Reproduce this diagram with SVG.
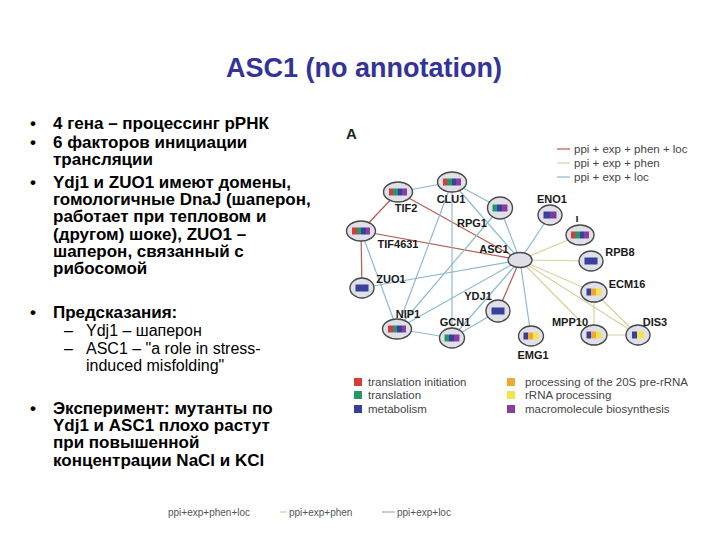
<svg xmlns="http://www.w3.org/2000/svg" width="720" height="540" viewBox="0 0 720 540">
<defs>
<style>
.title{font-family:"Liberation Sans",Arial,sans-serif;font-weight:bold;font-size:27px;fill:#333399}
.bt{font-family:"Liberation Sans",Arial,sans-serif;font-weight:bold;font-size:17px;fill:#000}
.st{font-family:"Liberation Sans",Arial,sans-serif;font-size:16px;fill:#000}
.nl{font-family:"Liberation Sans",Arial,sans-serif;font-weight:bold;font-size:11px;fill:#1a1a1a;text-anchor:middle}
.lg{font-family:"Liberation Sans",Arial,sans-serif;font-size:11.5px;fill:#444}
.ft{font-family:"Liberation Sans",Arial,sans-serif;font-size:10px;fill:#555}
.node ellipse{fill:#dfe0e8;stroke:#4a4a4a;stroke-width:1.4}
.er{stroke:#b9584f;stroke-width:1.2;fill:none}
.eb{stroke:#8dbad3;stroke-width:1.2;fill:none}
.et{stroke:#d9d29e;stroke-width:1.2;fill:none}
</style>
<linearGradient id="g4" x1="0" y1="0" x2="1" y2="0">
<stop offset="0" stop-color="#d63d3a"/><stop offset="0.25" stop-color="#d63d3a"/>
<stop offset="0.25" stop-color="#24976a"/><stop offset="0.5" stop-color="#24976a"/>
<stop offset="0.5" stop-color="#3a3f9c"/><stop offset="0.75" stop-color="#3a3f9c"/>
<stop offset="0.75" stop-color="#8c3c9c"/><stop offset="1" stop-color="#8c3c9c"/>
</linearGradient>
<linearGradient id="g3" x1="0" y1="0" x2="1" y2="0">
<stop offset="0" stop-color="#24976a"/><stop offset="0.33" stop-color="#24976a"/>
<stop offset="0.33" stop-color="#3a3f9c"/><stop offset="0.66" stop-color="#3a3f9c"/>
<stop offset="0.66" stop-color="#8c3c9c"/><stop offset="1" stop-color="#8c3c9c"/>
</linearGradient>
<linearGradient id="gbp" x1="0" y1="0" x2="1" y2="0">
<stop offset="0" stop-color="#3a3f9c"/><stop offset="0.5" stop-color="#3a3f9c"/>
<stop offset="0.5" stop-color="#7a3c9c"/><stop offset="1" stop-color="#7a3c9c"/>
</linearGradient>
<linearGradient id="gboy" x1="0" y1="0" x2="1" y2="0">
<stop offset="0" stop-color="#3a3f9c"/><stop offset="0.3" stop-color="#3a3f9c"/>
<stop offset="0.3" stop-color="#eea833"/><stop offset="0.62" stop-color="#eea833"/>
<stop offset="0.62" stop-color="#f3e34c"/><stop offset="1" stop-color="#f3e34c"/>
</linearGradient>
<linearGradient id="gby" x1="0" y1="0" x2="1" y2="0">
<stop offset="0" stop-color="#3a3f9c"/><stop offset="0.4" stop-color="#3a3f9c"/>
<stop offset="0.4" stop-color="#f3e34c"/><stop offset="1" stop-color="#f3e34c"/>
</linearGradient>
</defs>
<rect width="720" height="540" fill="#fff"/>
<text class="title" x="364" y="77" text-anchor="middle">ASC1 (no annotation)</text>

<g id="bullets">
<text class="bt" x="30" y="129">•</text>
<text class="bt" x="53" y="129">4 гена – процессинг рРНК</text>
<text class="bt" x="30" y="148">•</text>
<text class="bt" x="53" y="148">6 факторов инициации</text>
<text class="bt" x="53" y="165">трансляции</text>
<text class="bt" x="30" y="188">•</text>
<text class="bt" x="53" y="188">Ydj1 и ZUO1 имеют домены,</text>
<text class="bt" x="53" y="205">гомологичные DnaJ (шаперон,</text>
<text class="bt" x="53" y="222">работает при тепловом и</text>
<text class="bt" x="53" y="240">(другом) шоке), ZUO1 –</text>
<text class="bt" x="53" y="257">шаперон, связанный с</text>
<text class="bt" x="53" y="274">рибосомой</text>
<text class="bt" x="30" y="318">•</text>
<text class="bt" x="53" y="318">Предсказания:</text>
<text class="st" x="64" y="336">–</text>
<text class="st" x="86" y="336">Ydj1 – шаперон</text>
<text class="st" x="64" y="354">–</text>
<text class="st" x="86" y="354">ASC1 – "a role in stress-</text>
<text class="st" x="86" y="371">induced misfolding"</text>
<text class="bt" x="30" y="414">•</text>
<text class="bt" x="53" y="414">Эксперимент: мутанты по</text>
<text class="bt" x="53" y="431">Ydj1  и ASC1 плохо растут</text>
<text class="bt" x="53" y="448">при повышенной</text>
<text class="bt" x="53" y="466">концентрации NaCl и KCl</text>
</g>

<text x="346" y="139" font-family="Liberation Sans, Arial, sans-serif" font-weight="bold" font-size="15" fill="#222">A</text>

<g id="legend-top">
<line class="er" x1="557" y1="149" x2="570" y2="149"/>
<text class="lg" x="574" y="153">ppi + exp + phen + loc</text>
<line class="et" x1="557" y1="163" x2="570" y2="163"/>
<text class="lg" x="574" y="167">ppi + exp + phen</text>
<line class="eb" x1="557" y1="177" x2="570" y2="177"/>
<text class="lg" x="574" y="181">ppi + exp + loc</text>
</g>

<g id="connectors">
<line class="er" x1="398" y1="192" x2="361" y2="231"/>
<line class="er" x1="398" y1="192" x2="520" y2="260"/>
<line class="er" x1="361" y1="231" x2="520" y2="260"/>
<line class="er" x1="361" y1="231" x2="362" y2="288"/>
<line class="er" x1="520" y1="260" x2="498" y2="311"/>
<line class="eb" x1="398" y1="192" x2="452" y2="182"/>
<line class="eb" x1="452" y1="182" x2="500" y2="208"/>
<line class="eb" x1="452" y1="182" x2="520" y2="260"/>
<line class="eb" x1="452" y1="182" x2="452" y2="338"/>
<line class="eb" x1="452" y1="182" x2="397" y2="329"/>
<line class="eb" x1="500" y1="208" x2="520" y2="260"/>
<line class="eb" x1="500" y1="208" x2="397" y2="329"/>
<line class="eb" x1="361" y1="231" x2="397" y2="329"/>
<line class="eb" x1="362" y1="288" x2="520" y2="260"/>
<line class="eb" x1="397" y1="329" x2="520" y2="260"/>
<line class="eb" x1="397" y1="329" x2="452" y2="338"/>
<line class="eb" x1="452" y1="338" x2="498" y2="311"/>
<line class="eb" x1="452" y1="338" x2="520" y2="260"/>
<line class="eb" x1="520" y1="260" x2="531" y2="336"/>
<line class="eb" x1="520" y1="260" x2="550" y2="215"/>
<line class="et" x1="520" y1="260" x2="580" y2="235"/>
<line class="et" x1="520" y1="260" x2="591" y2="261"/>
<line class="et" x1="520" y1="260" x2="594" y2="292"/>
<line class="et" x1="520" y1="260" x2="594" y2="335"/>
<line class="et" x1="520" y1="260" x2="638" y2="335"/>
<line class="et" x1="594" y1="292" x2="594" y2="335"/>
<line class="et" x1="594" y1="292" x2="638" y2="335"/>
<line class="et" x1="594" y1="335" x2="638" y2="335"/>
</g>

<g id="TIF2" class="node"><ellipse cx="398" cy="192" rx="14.5" ry="10"/><rect x="389" y="188.5" width="18" height="7" fill="url(#g4)"/><text class="nl" x="406" y="212">TIF2</text></g>
<g id="CLU1" class="node"><ellipse cx="452" cy="182" rx="14.5" ry="10"/><rect x="443" y="178.5" width="18" height="7" fill="url(#g4)"/><text class="nl" x="451" y="203">CLU1</text></g>
<g id="RPG1" class="node"><ellipse cx="500" cy="208" rx="12.5" ry="11"/><rect x="492.5" y="204.5" width="15" height="7" fill="url(#g3)"/><text class="nl" x="472" y="227">RPG1</text></g>
<g id="TIF4631" class="node"><ellipse cx="361" cy="231" rx="14.5" ry="10"/><rect x="352" y="227.5" width="18" height="7" fill="url(#g4)"/><text class="nl" x="398" y="248">TIF4631</text></g>
<g id="ASC1" class="node"><ellipse cx="520" cy="260" rx="12" ry="7.5"/><text class="nl" x="494" y="253">ASC1</text></g>
<g id="ZUO1" class="node"><ellipse cx="362" cy="288" rx="12" ry="10"/><rect x="355.5" y="284.5" width="13" height="7" fill="#3a3f9c"/><text class="nl" x="391" y="283">ZUO1</text></g>
<g id="NIP1" class="node"><ellipse cx="397" cy="329" rx="14.5" ry="10"/><rect x="388" y="325.5" width="18" height="7" fill="url(#g4)"/><text class="nl" x="408" y="318">NIP1</text></g>
<g id="GCN1" class="node"><ellipse cx="452" cy="338" rx="12.5" ry="10"/><rect x="444.5" y="334.5" width="15" height="7" fill="url(#g3)"/><text class="nl" x="455" y="326">GCN1</text></g>
<g id="YDJ1" class="node"><ellipse cx="498" cy="311" rx="12" ry="11"/><rect x="491.5" y="307.5" width="13" height="7" fill="#3a3f9c"/><text class="nl" x="478" y="300">YDJ1</text></g>
<g id="EMG1" class="node"><ellipse cx="531" cy="336" rx="12.5" ry="10"/><rect x="523.5" y="332.5" width="15" height="7" fill="url(#gboy)"/><text class="nl" x="533" y="359">EMG1</text></g>
<g id="ENO1" class="node"><ellipse cx="550" cy="215" rx="12" ry="10"/><rect x="543.5" y="211.5" width="13" height="7" fill="url(#gbp)"/><text class="nl" x="552" y="203">ENO1</text></g>
<g id="I" class="node"><ellipse cx="580" cy="235" rx="14" ry="10"/><rect x="571" y="231.5" width="18" height="7" fill="url(#g4)"/><text class="nl" x="577" y="222">ı</text></g>
<g id="RPB8" class="node"><ellipse cx="591" cy="261" rx="12" ry="10"/><rect x="584.5" y="257.5" width="13" height="7" fill="#3a3f9c"/><text class="nl" x="620" y="256">RPB8</text></g>
<g id="ECM16" class="node"><ellipse cx="594" cy="292" rx="13" ry="10"/><rect x="586.5" y="288.5" width="15" height="7" fill="url(#gboy)"/><text class="nl" x="627" y="288">ECM16</text></g>
<g id="MPP10" class="node"><ellipse cx="594" cy="335" rx="13" ry="10"/><rect x="586.5" y="331.5" width="15" height="7" fill="url(#gboy)"/><text class="nl" x="570" y="326">MPP10</text></g>
<g id="DIS3" class="node"><ellipse cx="638" cy="335" rx="12" ry="10"/><rect x="632" y="331.5" width="12" height="7" fill="url(#gby)"/><text class="nl" x="655" y="326">DIS3</text></g>

<g id="legend-bottom">
<rect x="354" y="378" width="8" height="8" fill="#d63d3a"/><text class="lg" x="368" y="385.5">translation initiation</text>
<rect x="354" y="391" width="8" height="8" fill="#24976a"/><text class="lg" x="368" y="399">translation</text>
<rect x="354" y="405" width="8" height="8" fill="#3a3f9c"/><text class="lg" x="368" y="413">metabolism</text>
<rect x="507" y="378" width="8" height="8" fill="#eea833"/><text class="lg" x="525" y="385.5">processing of the 20S pre-rRNA</text>
<rect x="507" y="391" width="8" height="8" fill="#f3e34c"/><text class="lg" x="525" y="399">rRNA processing</text>
<rect x="507" y="405" width="8" height="8" fill="#8c3c9c"/><text class="lg" x="525" y="413">macromolecule biosynthesis</text>
</g>

<g id="footer">
<text class="ft" x="168" y="516">ppi+exp+phen+loc</text>
<line x1="280" y1="512" x2="287" y2="512" stroke="#c9c2a2" stroke-width="1"/>
<text class="ft" x="289" y="516">ppi+exp+phen</text>
<line x1="382" y1="512" x2="395" y2="512" stroke="#7f9fbf" stroke-width="1"/>
<text class="ft" x="397" y="516">ppi+exp+loc</text>
</g>
</svg>
